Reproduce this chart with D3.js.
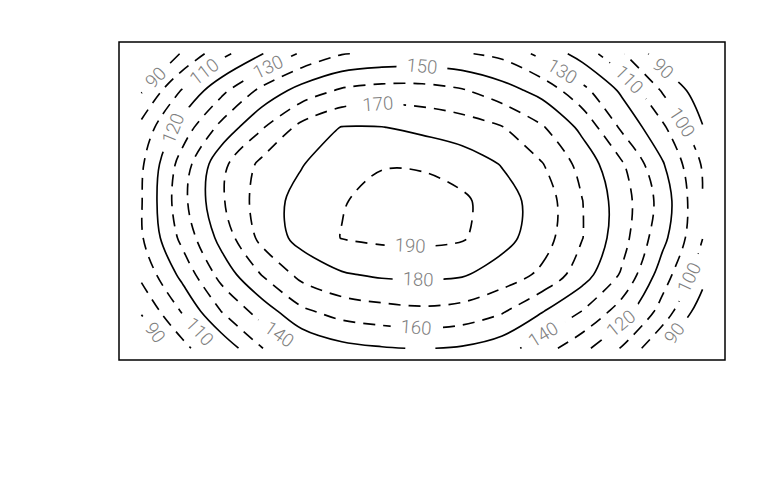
<!DOCTYPE html>
<html>
<head>
<meta charset="utf-8">
<script src="https://cdn.jsdelivr.net/npm/d3@7"></script>
<style>
  body { margin: 0; background: #ffffff; }
  svg { display: block; }
</style>
</head>
<body>
<svg id="chart" width="768" height="480"></svg>
<script>
// ---- DATA: surface heights (rows top -> bottom, columns left -> right)
const zRow0 = [80, 90.5, 107, 119.5, 131.5, 139.5, 142, 142.5, 141, 137.5, 127, 116, 101, 84, 74];
const zRow1 = [89, 110.5, 127.4, 142.6, 154, 161.5, 164, 164, 161, 154.3, 146.5, 133, 118, 99, 84];
const zRow2 = [103, 124, 143, 159, 173, 180.4, 180.3, 177.6, 175, 170.5, 161, 147.5, 128, 112, 90.5];
const zRow3 = [108.5, 134, 157.4, 172.5, 179.5, 186.5, 189.5, 189, 185, 179.5, 170.5, 156.5, 141, 121, 99];
const zRow4 = [109.5, 136.6, 158.7, 175, 183.5, 189.5, 192.5, 194, 192, 184, 175.8, 160.2, 144.6, 126, 100.5];
const zRow5 = [109, 132.4, 153.6, 173, 183.5, 190.3, 192, 192.5, 191, 183.5, 174.5, 160.3, 143.6, 123, 100.2];
const zRow6 = [102.5, 122.5, 143.8, 160.3, 173, 179, 181.5, 182, 181, 175.5, 168, 154.5, 138.5, 115, 94];
const zRow7 = [91, 110.5, 130.2, 144.5, 158, 164, 166.5, 168, 166.4, 161, 150.5, 139.7, 125, 106, 84];
const zRow8 = [80, 96, 113, 129.6, 141, 147, 149.3, 150.5, 149, 144.5, 134.5, 123, 109, 90.3, 78];

const levels = [90, 100, 110, 120, 130, 140, 150, 160, 170, 180, 190];
const lineTypes = ["solid", "dashed", "dashed"];   // recycled over the levels

// label anchors: [level, column (grid units), row (grid units)]
const labelSpots = [
  [90, 0.39, 0.68], [90, 0.36, 7.56], [90, 13.01, 0.41], [90, 13.26, 7.56],
  [100, 13.51, 1.85], [100, 13.68, 6.09],
  [110, 1.61, 0.55], [110, 1.36, 7.64], [110, 12.19, 0.68],
  [120, 0.89, 2.07], [120, 11.94, 7.29],
  [130, 3.18, 0.41], [130, 10.52, 0.44],
  [140, 3.43, 7.64], [140, 10.07, 7.70],
  [150, 7.0, 0.33],
  [160, 6.85, 7.45],
  [170, 5.90, 1.34],
  [180, 6.90, 6.17],
  [190, 6.70, 5.25]
];

// ---- build
const zRows = [zRow0, zRow1, zRow2, zRow3, zRow4, zRow5, zRow6, zRow7, zRow8];
const nx = zRows[0].length, ny = zRows.length;
const values = zRows.flat();

const W = 768, H = 480;
const box = { x0: 119, x1: 725, y0: 42, y1: 360 };
const ex = 0.04;
const x = d3.scaleLinear().domain([-ex * (nx - 1), (nx - 1) * (1 + ex)]).range([box.x0, box.x1]);
const y = d3.scaleLinear().domain([-ex * (ny - 1), (ny - 1) * (1 + ex)]).range([box.y0, box.y1]);

const svg = d3.select("#chart");
svg.append("rect").attr("width", W).attr("height", H).attr("fill", "#fff");
const defs = svg.append("defs");

const contours = d3.contours().size([nx, ny]).thresholds(levels).smooth(true)(values);

function outside(p) {
  const e = 1e-9;
  return p[0] < 0.5 - e || p[0] > nx - 0.5 + e || p[1] < 0.5 - e || p[1] > ny - 0.5 + e;
}
function splitRing(ring) {
  const pts = ring.slice();
  const f = pts[0], l = pts[pts.length - 1];
  if (f[0] === l[0] && f[1] === l[1]) pts.pop();
  const bi = pts.findIndex(outside);
  if (bi < 0) return [{ closed: true, pts }];
  const rot = pts.slice(bi).concat(pts.slice(0, bi));
  const runs = [];
  let cur = [];
  for (const p of rot) {
    if (outside(p)) { if (cur.length > 1) runs.push({ closed: false, pts: cur }); cur = []; }
    else cur.push(p);
  }
  if (cur.length > 1) runs.push({ closed: false, pts: cur });
  return runs;
}
const toPx = p => [x(p[0] - 0.5), y(p[1] - 0.5)];

const linesByLevel = new Map();
contours.forEach(c => {
  const runs = [];
  c.coordinates.forEach(poly => poly.forEach(ring => {
    splitRing(ring).forEach(r => runs.push({ closed: r.closed, pts: r.pts.map(toPx) }));
  }));
  linesByLevel.set(c.value, runs);
});

// masks (one per level) so that labels open a gap only in their own line
levels.forEach((lv, i) => {
  const m = defs.append("mask").attr("id", "lvmask" + i)
    .attr("maskUnits", "userSpaceOnUse")
    .attr("x", 0).attr("y", 0).attr("width", W).attr("height", H);
  m.append("rect").attr("width", W).attr("height", H).attr("fill", "white");
});

const lineOpen = d3.line().curve(d3.curveCatmullRom.alpha(0.5));
const lineClosed = d3.line().curve(d3.curveCatmullRomClosed.alpha(0.5));

const gLines = svg.append("g");
levels.forEach((lv, i) => {
  const lt = lineTypes[i % lineTypes.length];
  const g = gLines.append("g").attr("mask", "url(#lvmask" + i + ")");
  (linesByLevel.get(lv) || []).forEach(r => {
    g.append("path")
      .attr("d", r.closed ? lineClosed(r.pts) : lineOpen(r.pts))
      .attr("fill", "none")
      .attr("stroke", "#000")
      .attr("stroke-width", 1.65)
      .attr("stroke-linejoin", "round")
      .attr("stroke-dasharray", lt === "dashed" ? "12,8" : null);
  });
});

// labels
const gLab = svg.append("g");
const fontSize = 18.5;
labelSpots.forEach(([lv, gx, gy]) => {
  const ax = x(gx), ay = y(gy);
  const runs = linesByLevel.get(lv) || [];
  let best = null;
  runs.forEach(r => {
    const pts = r.pts;
    const n = pts.length;
    const segs = r.closed ? n : n - 1;
    for (let k = 0; k < segs; k++) {
      const a = pts[k], b = pts[(k + 1) % n];
      const dx = b[0] - a[0], dy = b[1] - a[1];
      const L2 = dx * dx + dy * dy || 1e-9;
      let t = ((ax - a[0]) * dx + (ay - a[1]) * dy) / L2;
      t = Math.max(0, Math.min(1, t));
      const px = a[0] + t * dx, py = a[1] + t * dy;
      const d = (px - ax) ** 2 + (py - ay) ** 2;
      if (!best || d < best.d) best = { d, px, py, ang: Math.atan2(dy, dx) * 180 / Math.PI };
    }
  });
  if (!best) return;
  let ang = best.ang;
  if (ang > 90) ang -= 180;
  if (ang < -90) ang += 180;
  const t = gLab.append("text")
    .attr("transform", `translate(${best.px},${best.py}) rotate(${ang})`)
    .attr("text-anchor", "middle")
    .attr("dominant-baseline", "central")
    .attr("font-family", "Roboto, 'Liberation Sans', Arial, sans-serif")
    .attr("font-weight", 300)
    .attr("font-size", fontSize)
    .attr("fill", "#7e7e7e")
    .text(String(lv));
  const tw = t.node().getComputedTextLength();
  const idx = levels.indexOf(lv);
  d3.select("#lvmask" + idx).append("rect")
    .attr("transform", `translate(${best.px},${best.py}) rotate(${ang})`)
    .attr("x", -tw / 2 - 10).attr("y", -fontSize * 0.5)
    .attr("width", tw + 20).attr("height", fontSize)
    .attr("fill", "black");
});

// plot frame
svg.append("rect")
  .attr("x", box.x0).attr("y", box.y0)
  .attr("width", box.x1 - box.x0).attr("height", box.y1 - box.y0)
  .attr("fill", "none").attr("stroke", "#000").attr("stroke-width", 1.5);
</script>
</body>
</html>
